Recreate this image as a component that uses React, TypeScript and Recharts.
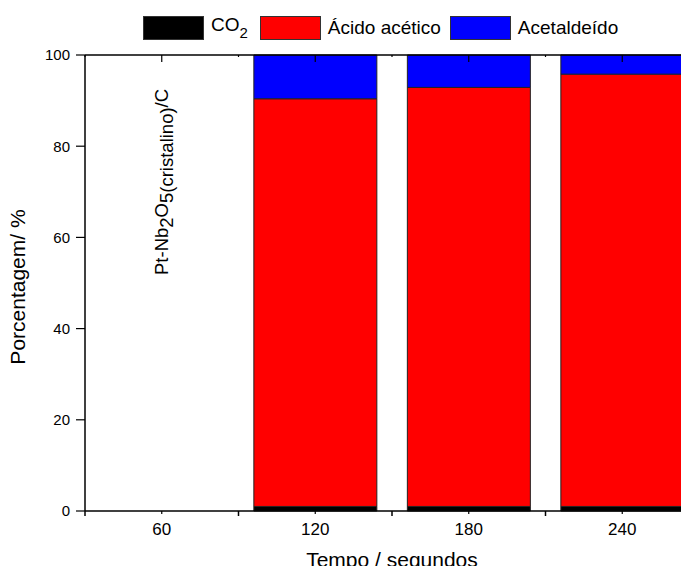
import React from 'react';
import {
  BarChart,
  Bar,
  XAxis,
  YAxis,
  ReferenceLine,
} from "recharts";

// values (percent)
const tempos = ["60", "120", "180", "240"];
const co2 = [null, 1.0, 1.0, 1.0];
const acidoAcetico = [null, 89.4, 91.9, 94.8];
const acetaldeido = [null, 9.6, 7.1, 4.2];
const yTicks = [0, 20, 40, 60, 80, 100];

const data = tempos.map((t, i) => ({
  tempo: t,
  co2: co2[i],
  acido: acidoAcetico[i],
  acetal: acetaldeido[i],
}));

const FONT = '"Liberation Sans", Arial, sans-serif';
const CHART_W = 720;
const CHART_H = 574;
const MARGIN = { top: 54, right: 21, bottom: 0, left: 0 };
const Y_W = 85;
const BAND = (CHART_W - MARGIN.left - MARGIN.right - Y_W) / tempos.length;

const BottomTick = (props: any) => {
  const { x, y, payload, index } = props;
  const half = BAND / 2;
  return (
    <g>
      <line x1={x} x2={x} y1={y} y2={y + 3} stroke="#000" strokeWidth={1.2} />
      <line x1={x - half} x2={x - half} y1={y} y2={y + 5} stroke="#000" strokeWidth={1.5} />
      {index === tempos.length - 1 && (
        <line x1={x + half} x2={x + half} y1={y} y2={y + 5} stroke="#000" strokeWidth={1.5} />
      )}
      <text x={x} y={y + 24} textAnchor="middle" fontSize={17} fill="#000" fontFamily={FONT}>
        {payload.value}
      </text>
    </g>
  );
};

const TopTick = (props: any) => {
  const { x, y } = props;
  const half = BAND / 2;
  return (
    <g>
      <line x1={x} x2={x} y1={y} y2={y + 7} stroke="#000" strokeWidth={1.2} />
      <line x1={x - half} x2={x - half} y1={y} y2={y + 2} stroke="#000" strokeWidth={1.2} />
    </g>
  );
};

function LegendBox({ color }: { color: string }) {
  return (
    <div
      style={{
        width: 61,
        height: 24,
        background: color,
        border: "1px solid #333",
        boxSizing: "border-box",
        marginRight: 7,
      }}
    />
  );
}

export default function App() {
  return (
    <div
      style={{
        margin: -8,
        width: 689,
        height: 574,
        overflow: "hidden",
        position: "relative",
        background: "#fff",
        fontFamily: FONT,
      }}
    >
      {/* legend across the top */}
      <div
        style={{
          position: "absolute",
          left: 143,
          top: 14,
          display: "flex",
          alignItems: "center",
          fontSize: 19,
          color: "#000",
          whiteSpace: "nowrap",
          zIndex: 2,
        }}
      >
        <LegendBox color="#000000" />
        <span style={{ marginRight: 12 }}>
          CO<sub style={{ fontSize: 15, verticalAlign: -7 }}>2</sub>
        </span>
        <LegendBox color="#ff0000" />
        <span style={{ marginRight: 9 }}>Ácido acético</span>
        <LegendBox color="#0000ff" />
        <span>Acetaldeído</span>
      </div>

      <BarChart
        width={CHART_W}
        height={CHART_H}
        data={data}
        margin={MARGIN}
        barCategoryGap="10%"
      >
        <XAxis
          xAxisId="bottom"
          dataKey="tempo"
          height={63}
          interval={0}
          tickSize={0}
          tickMargin={0}
          tickLine={false}
          axisLine={{ stroke: "#000", strokeWidth: 1.5 }}
          tick={(p: any) => <BottomTick {...p} />}
          label={{
            content: (p: any) => {
              const vb = p.viewBox || {};
              return (
                <text
                  x={vb.x + vb.width / 2}
                  y={567}
                  textAnchor="middle"
                  fontSize={21}
                  fill="#000"
                  fontFamily={FONT}
                >
                  Tempo / segundos
                </text>
              );
            },
          }}
        />
        <XAxis
          xAxisId="top"
          orientation="top"
          dataKey="tempo"
          height={1}
          interval={0}
          tickSize={0}
          tickMargin={0}
          tickLine={false}
          axisLine={{ stroke: "#000", strokeWidth: 1.5 }}
          tick={(p: any) => <TopTick {...p} />}
        />
        <YAxis
          width={Y_W}
          domain={[0, 100]}
          ticks={yTicks}
          interval={0}
          tickSize={9}
          tickMargin={6}
          axisLine={{ stroke: "#000", strokeWidth: 1.5 }}
          tickLine={{ stroke: "#000", strokeWidth: 1.2 }}
          tick={{ fill: "#000", fontSize: 15, fontFamily: FONT }}
          label={{
            content: () => (
              <text
                x={25}
                y={287}
                transform="rotate(-90 25 287)"
                textAnchor="middle"
                fontSize={21}
                fill="#000"
                fontFamily={FONT}
              >
                Porcentagem/ %
              </text>
            ),
          }}
        />

        <ReferenceLine
          xAxisId="bottom"
          x="60"
          stroke="none"
          label={{
            content: (p: any) => {
              const vb = p.viewBox || {};
              const tx = vb.x + 6;
              const ty = 275;
              return (
                <text
                  x={tx}
                  y={ty}
                  transform={`rotate(-90 ${tx} ${ty})`}
                  textAnchor="start"
                  fontSize={18.5}
                  fill="#000"
                  fontFamily={FONT}
                >
                  <tspan>Pt-Nb</tspan>
                  <tspan dy={5}>2</tspan>
                  <tspan dy={-5}>O</tspan>
                  <tspan dy={5}>5(cristalino)</tspan>
                  <tspan dy={-5}>/C</tspan>
                </text>
              );
            },
          }}
        />

        <Bar xAxisId="bottom" dataKey="co2" stackId="a" fill="#000000" stroke="#222" strokeWidth={1} isAnimationActive={false} />
        <Bar xAxisId="bottom" dataKey="acido" stackId="a" fill="#ff0000" stroke="#222" strokeWidth={1} isAnimationActive={false} />
        <Bar xAxisId="bottom" dataKey="acetal" stackId="a" fill="#0000ff" stroke="#222" strokeWidth={1} isAnimationActive={false} />
      </BarChart>
    </div>
  );
}
